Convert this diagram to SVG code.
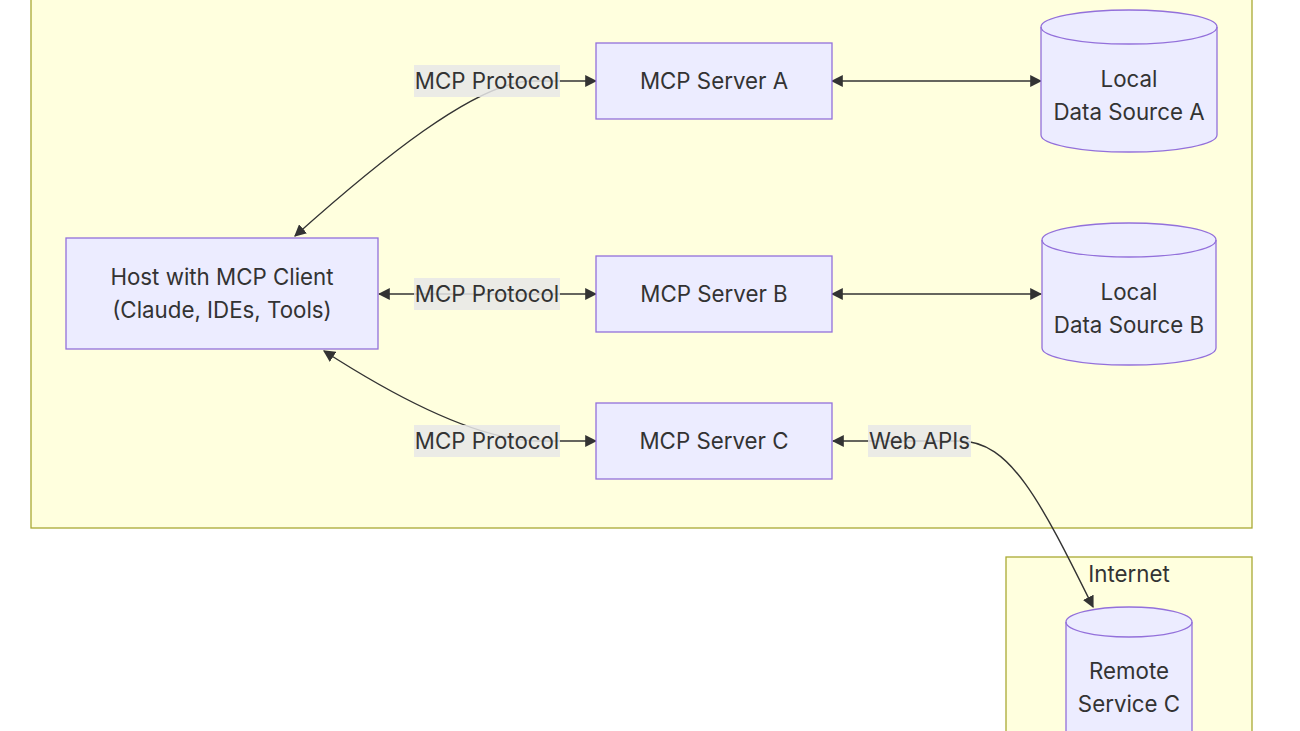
<svg xmlns="http://www.w3.org/2000/svg" width="1300" height="731" viewBox="0 0 1300 731">
<style>
.cluster{fill:#ffffde;stroke:#aaaa33;stroke-width:1.3}
.node{fill:#ececff;stroke:#9370db;stroke-width:1.3}
.t{font-family:Inter,"Noto Sans","Liberation Sans",sans-serif;font-size:22.3px;fill:#333;text-anchor:middle;dominant-baseline:central}
.edge{fill:none;stroke:#333;stroke-width:1.4}
.lbl{fill:#e8e8e8;opacity:0.85}
</style>
<defs>
<marker id="ah" viewBox="0 0 10 10" refX="9" refY="5" markerUnits="userSpaceOnUse" markerWidth="12" markerHeight="12" orient="auto-start-reverse">
<path d="M0,0 L10,5 L0,10 z" fill="#333"/>
</marker>
</defs>
<rect width="1300" height="731" fill="#ffffff"/>
<g id="cluster-local">
<rect class="cluster" x="31" y="-10" width="1221" height="538"/>
</g>
<g id="cluster-internet">
<rect class="cluster" x="1006" y="557" width="246" height="190"/>
<text class="t" x="1129" y="573">Internet</text>
</g>
<g id="connectors">
<path class="edge" d="M596,81 L530,81 C475,83 380,160 295,236" marker-start="url(#ah)" marker-end="url(#ah)"/>
<path class="edge" d="M596,294 L379,294" marker-start="url(#ah)" marker-end="url(#ah)"/>
<path class="edge" d="M596,441 L540,441 C480,441 400,400 324,351" marker-start="url(#ah)" marker-end="url(#ah)"/>
<path class="edge" d="M832,81 L1041,81" marker-start="url(#ah)" marker-end="url(#ah)"/>
<path class="edge" d="M832,294 L1041,294" marker-start="url(#ah)" marker-end="url(#ah)"/>
<path class="edge" d="M833,441 L960,441 C1010,441 1040,500 1093,607" marker-start="url(#ah)" marker-end="url(#ah)"/>
<rect class="lbl" x="414" y="65" width="146" height="32"/>
<text class="t" x="487" y="80">MCP Protocol</text>
<rect class="lbl" x="414" y="278" width="146" height="32"/>
<text class="t" x="487" y="293">MCP Protocol</text>
<rect class="lbl" x="414" y="425" width="146" height="32"/>
<text class="t" x="487" y="440">MCP Protocol</text>
<rect class="lbl" x="868" y="425" width="103" height="32"/>
<text class="t" x="919.5" y="440">Web APIs</text>
</g>
<g id="host">
<rect class="node" x="66" y="238" width="312" height="111"/>
<text class="t" x="222" y="276">Host with MCP Client</text>
<text class="t" x="222" y="309">(Claude, IDEs, Tools)</text>
</g>
<g id="serverA">
<rect class="node" x="596" y="43" width="236" height="76"/>
<text class="t" x="714" y="80">MCP Server A</text>
</g>
<g id="serverB">
<rect class="node" x="596" y="256" width="236" height="76"/>
<text class="t" x="714" y="293">MCP Server B</text>
</g>
<g id="serverC">
<rect class="node" x="596" y="403" width="236" height="76"/>
<text class="t" x="714" y="440">MCP Server C</text>
</g>
<g id="dataA">
<path class="node" d="M1041,27 A88,17 0 0 1 1217,27 L1217,135 A88,17 0 0 1 1041,135 Z"/>
<path class="node" style="fill:none" d="M1041,27 A88,17 0 0 0 1217,27"/>
<text class="t" x="1129" y="78">Local</text>
<text class="t" x="1129" y="111">Data Source A</text>
</g>
<g id="dataB">
<path class="node" d="M1042,240 A87,17 0 0 1 1216,240 L1216,348 A87,17 0 0 1 1042,348 Z"/>
<path class="node" style="fill:none" d="M1042,240 A87,17 0 0 0 1216,240"/>
<text class="t" x="1129" y="291">Local</text>
<text class="t" x="1129" y="324">Data Source B</text>
</g>
<g id="remoteC">
<path class="node" d="M1066,622 A63,15 0 0 1 1192,622 L1192,740 A63,15 0 0 1 1066,740 Z"/>
<path class="node" style="fill:none" d="M1066,622 A63,15 0 0 0 1192,622"/>
<text class="t" x="1129" y="670">Remote</text>
<text class="t" x="1129" y="703">Service C</text>
</g>
</svg>
